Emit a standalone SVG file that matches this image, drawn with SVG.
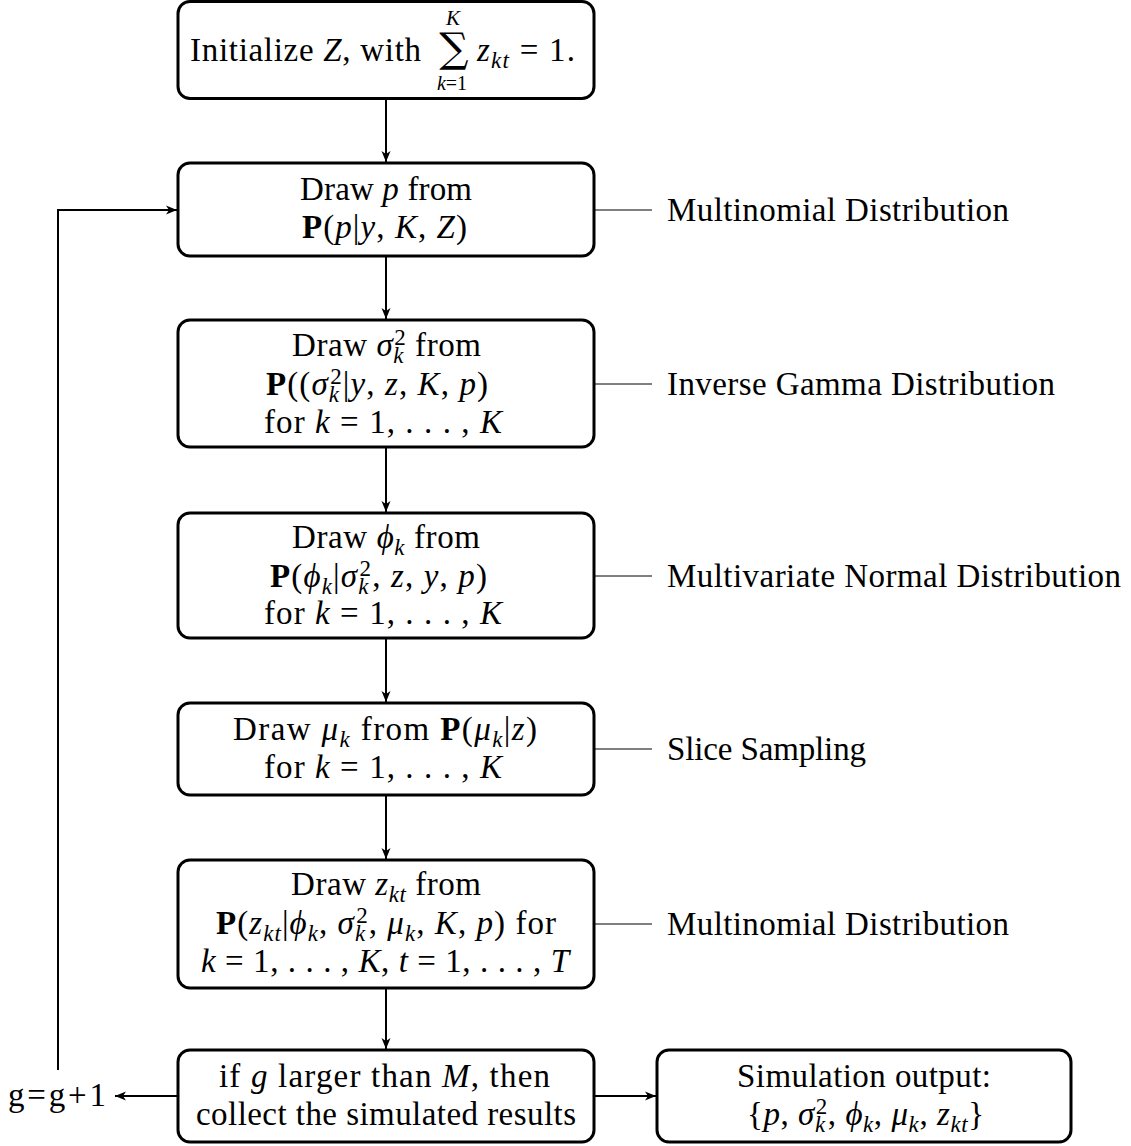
<svg xmlns="http://www.w3.org/2000/svg" width="1131" height="1146" viewBox="0 0 1131 1146">
<defs>
<style>
.t{font-family:"Liberation Serif","Times New Roman",serif;font-size:33px;letter-spacing:0;fill:#000}
.m{text-anchor:middle}
.i{font-style:italic}
.b{font-weight:bold}
.s{font-size:23px}
.box{fill:#fff;stroke:#000;stroke-width:3}
.conn{stroke:#000;stroke-width:2;fill:none}
.lab{stroke:#000;stroke-width:1;fill:none}
</style>
<marker id="ah" markerUnits="userSpaceOnUse" markerWidth="12" markerHeight="10" refX="11" refY="5" orient="auto" viewBox="0 0 12 10">
<path d="M0,0.5 L11,5 L0,9.5 L3,5 z" fill="#000"/>
</marker>
</defs>
<rect width="1131" height="1146" fill="#fff"/>

<g id="connectors">
<line class="conn" x1="386" y1="98" x2="386" y2="162" marker-end="url(#ah)"/>
<line class="conn" x1="386" y1="256" x2="386" y2="319" marker-end="url(#ah)"/>
<line class="conn" x1="386" y1="447" x2="386" y2="512" marker-end="url(#ah)"/>
<line class="conn" x1="386" y1="638" x2="386" y2="702" marker-end="url(#ah)"/>
<line class="conn" x1="386" y1="795" x2="386" y2="859" marker-end="url(#ah)"/>
<line class="conn" x1="386" y1="988" x2="386" y2="1049" marker-end="url(#ah)"/>
<line class="conn" x1="178" y1="1096" x2="115" y2="1096" marker-end="url(#ah)"/>
<line class="conn" x1="594" y1="1096" x2="656" y2="1096" marker-end="url(#ah)"/>
<polyline class="conn" points="58,1070 58,210 177,210" marker-end="url(#ah)"/>
<line class="lab" x1="595" y1="210" x2="652" y2="210"/>
<line class="lab" x1="595" y1="384" x2="652" y2="384"/>
<line class="lab" x1="595" y1="576" x2="652" y2="576"/>
<line class="lab" x1="595" y1="749" x2="652" y2="749"/>
<line class="lab" x1="595" y1="924" x2="652" y2="924"/>
</g>

<g id="init">
<rect class="box" x="178" y="1.5" width="416" height="97" rx="12"/>
<text class="t" x="190" y="61" textLength="231" lengthAdjust="spacing">Initialize <tspan class="i">Z</tspan>, with</text>
<text x="454" y="62" style="font-family:'DejaVu Serif',serif;font-size:41px;text-anchor:middle">∑</text>
<text class="t i m" x="453" y="25" style="font-size:21px">K</text>
<text class="t m" x="452" y="90" style="font-size:20px"><tspan class="i">k</tspan>=1</text>
<text class="t" x="477" y="61" textLength="98" lengthAdjust="spacing"><tspan class="i">z</tspan><tspan class="s i" dy="7">kt</tspan><tspan dy="-7"> = 1.</tspan></text>
</g>

<g id="draw-p">
<rect class="box" x="178" y="163" width="416" height="93" rx="12"/>
<text class="t" x="300" y="200" textLength="172" lengthAdjust="spacing">Draw <tspan class="i">p</tspan> from</text>
<text class="t" x="302" y="238" textLength="165" lengthAdjust="spacing"><tspan class="b">P</tspan>(<tspan class="i">p</tspan>|<tspan class="i">y</tspan>, <tspan class="i">K</tspan>, <tspan class="i">Z</tspan>)</text>
</g>

<g id="draw-sigma">
<rect class="box" x="178" y="320" width="416" height="127" rx="12"/>
<text class="t" x="292" y="356" textLength="189" lengthAdjust="spacing">Draw <tspan class="i">σ</tspan><tspan class="s i" dy="7">k</tspan><tspan class="s" dx="-10" dy="-18">2</tspan><tspan dy="11"> from</tspan></text>
<text class="t" x="266" y="395" textLength="222" lengthAdjust="spacing"><tspan class="b">P</tspan>((<tspan class="i">σ</tspan><tspan class="s i" dy="7">k</tspan><tspan class="s" dx="-10" dy="-18">2</tspan><tspan dy="11">|</tspan><tspan class="i">y</tspan>, <tspan class="i">z</tspan>, <tspan class="i">K</tspan>, <tspan class="i">p</tspan>)</text>
<text class="t" x="264" y="433" textLength="238" lengthAdjust="spacing">for <tspan class="i">k</tspan>  =  1, . . . , <tspan class="i">K</tspan></text>
</g>

<g id="draw-phi">
<rect class="box" x="178" y="513" width="416" height="125" rx="12"/>
<text class="t" x="292" y="548" textLength="188" lengthAdjust="spacing">Draw <tspan class="i">ϕ</tspan><tspan class="s i" dy="7">k</tspan><tspan dy="-7"> from</tspan></text>
<text class="t" x="270" y="587" textLength="217" lengthAdjust="spacing"><tspan class="b">P</tspan>(<tspan class="i">ϕ</tspan><tspan class="s i" dy="7">k</tspan><tspan dy="-7">|</tspan><tspan class="i">σ</tspan><tspan class="s i" dy="7">k</tspan><tspan class="s" dx="-10" dy="-18">2</tspan><tspan dy="11">, </tspan><tspan class="i">z</tspan>, <tspan class="i">y</tspan>, <tspan class="i">p</tspan>)</text>
<text class="t" x="264" y="624" textLength="238" lengthAdjust="spacing">for <tspan class="i">k</tspan>  =  1, . . . , <tspan class="i">K</tspan></text>
</g>

<g id="draw-mu">
<rect class="box" x="178" y="703" width="416" height="92" rx="12"/>
<text class="t" x="233" y="740" textLength="304" lengthAdjust="spacing">Draw <tspan class="i">μ</tspan><tspan class="s i" dy="7">k</tspan><tspan dy="-7"> from </tspan><tspan class="b">P</tspan>(<tspan class="i">μ</tspan><tspan class="s i" dy="7">k</tspan><tspan dy="-7">|</tspan><tspan class="i">z</tspan>)</text>
<text class="t" x="264" y="778" textLength="238" lengthAdjust="spacing">for <tspan class="i">k</tspan>  =  1, . . . , <tspan class="i">K</tspan></text>
</g>

<g id="draw-z">
<rect class="box" x="178" y="860" width="416" height="128" rx="12"/>
<text class="t" x="291" y="895" textLength="190" lengthAdjust="spacing">Draw <tspan class="i">z</tspan><tspan class="s i" dy="7">kt</tspan><tspan dy="-7"> from</tspan></text>
<text class="t" x="216" y="934" textLength="340" lengthAdjust="spacing"><tspan class="b">P</tspan>(<tspan class="i">z</tspan><tspan class="s i" dy="7">kt</tspan><tspan dy="-7">|</tspan><tspan class="i">ϕ</tspan><tspan class="s i" dy="7">k</tspan><tspan dy="-7">, </tspan><tspan class="i">σ</tspan><tspan class="s i" dy="7">k</tspan><tspan class="s" dx="-10" dy="-18">2</tspan><tspan dy="11">, </tspan><tspan class="i">μ</tspan><tspan class="s i" dy="7">k</tspan><tspan dy="-7">, </tspan><tspan class="i">K</tspan>, <tspan class="i">p</tspan>) for</text>
<text class="t" x="201" y="972" textLength="368" lengthAdjust="spacing"><tspan class="i">k</tspan> = 1, . . . , <tspan class="i">K</tspan>, <tspan class="i">t</tspan> = 1, . . . , <tspan class="i">T</tspan></text>
</g>

<g id="check">
<rect class="box" x="178" y="1050" width="416" height="92" rx="12"/>
<text class="t" x="219" y="1087" textLength="331" lengthAdjust="spacing">if <tspan class="i">g</tspan> larger than <tspan class="i">M</tspan>, then</text>
<text class="t" x="196" y="1125" textLength="380" lengthAdjust="spacing">collect the simulated results</text>
</g>

<g id="output">
<rect class="box" x="657" y="1050" width="414" height="92" rx="12"/>
<text class="t" x="737" y="1087" textLength="254" lengthAdjust="spacing">Simulation output:</text>
<text class="t" x="747" y="1125" textLength="237" lengthAdjust="spacing">{<tspan class="i">p</tspan>, <tspan class="i">σ</tspan><tspan class="s i" dy="7">k</tspan><tspan class="s" dx="-10" dy="-18">2</tspan><tspan dy="11">, </tspan><tspan class="i">ϕ</tspan><tspan class="s i" dy="7">k</tspan><tspan dy="-7">, </tspan><tspan class="i">μ</tspan><tspan class="s i" dy="7">k</tspan><tspan dy="-7">, </tspan><tspan class="i">z</tspan><tspan class="s i" dy="7">kt</tspan><tspan dy="-7">}</tspan></text>
</g>

<g id="increment">
<text class="t" x="8" y="1106" textLength="98" lengthAdjust="spacing">g=g+1</text>
</g>

<g id="labels">
<text class="t" x="667" y="221" textLength="342" lengthAdjust="spacing">Multinomial Distribution</text>
<text class="t" x="667" y="395" textLength="388" lengthAdjust="spacing">Inverse Gamma Distribution</text>
<text class="t" x="667" y="587" textLength="454" lengthAdjust="spacing">Multivariate Normal Distribution</text>
<text class="t" x="667" y="760" textLength="199" lengthAdjust="spacing">Slice Sampling</text>
<text class="t" x="667" y="935" textLength="342" lengthAdjust="spacing">Multinomial Distribution</text>
</g>
</svg>
